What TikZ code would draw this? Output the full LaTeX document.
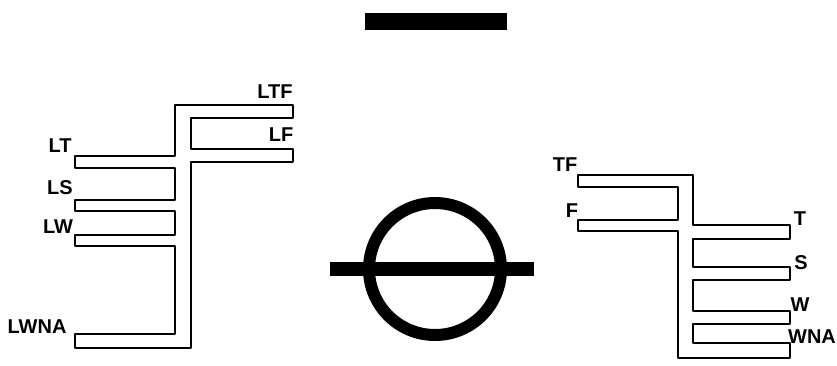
\documentclass[tikz,border=0pt]{standalone}
\usepackage{fontspec}
\setmainfont{Liberation Sans}
\begin{document}
\begin{tikzpicture}[x=1pt,y=-1pt,
  outline/.style={draw=black,line width=2.9pt,line join=round},
  lbl/.style={font=\fontsize{20}{20}\selectfont\bfseries,inner sep=0pt},
  solid/.style={fill=black,draw=none}]
\useasboundingbox (0,0) rectangle (837,365);
% top bar
\fill[solid] (365,13) rectangle (507,30);
% circle with bar
\draw[line width=12pt] (435,269) circle[radius=66];
\fill[solid] (330,262) rectangle (534,276);
% left structure
\draw[outline] (175,105) -- (293,105) -- (293,118) -- (191,118) -- (191,149)
  -- (293,149) -- (293,162) -- (191,162) -- (191,348) -- (75,348) -- (75,334)
  -- (175,334) -- (175,246) -- (75,246) -- (75,235) -- (175,235) -- (175,211)
  -- (75,211) -- (75,200) -- (175,200) -- (175,168) -- (75,168) -- (75,156)
  -- (175,156) -- cycle;
% right structure
\draw[outline] (578,175) -- (693,175) -- (693,225) -- (790,225) -- (790,239)
  -- (693,239) -- (693,267) -- (790,267) -- (790,280) -- (693,280) -- (693,311)
  -- (790,311) -- (790,324) -- (693,324) -- (693,343) -- (790,343) -- (790,358)
  -- (678,358) -- (678,231) -- (578,231) -- (578,220) -- (678,220) -- (678,187)
  -- (578,187) -- cycle;
% labels left
\node[lbl] (ltf) at (275,92) {LTF};
\node[lbl] (lf) at (281,135) {LF};
\node[lbl] (lt) at (60,146) {LT};
\node[lbl] (ls) at (60,188) {LS};
\node[lbl] (lw) at (58,227) {LW};
\node[lbl] (lwna) at (37,327) {LWNA};
% labels right
\node[lbl] (tf) at (565,165) {TF};
\node[lbl] (f) at (572,211) {F};
\node[lbl] (t) at (800,219) {T};
\node[lbl] (s) at (801,263) {S};
\node[lbl] (w) at (800,305) {W};
\node[lbl] (wna) at (812,337) {WNA};
\end{tikzpicture}
\end{document}
